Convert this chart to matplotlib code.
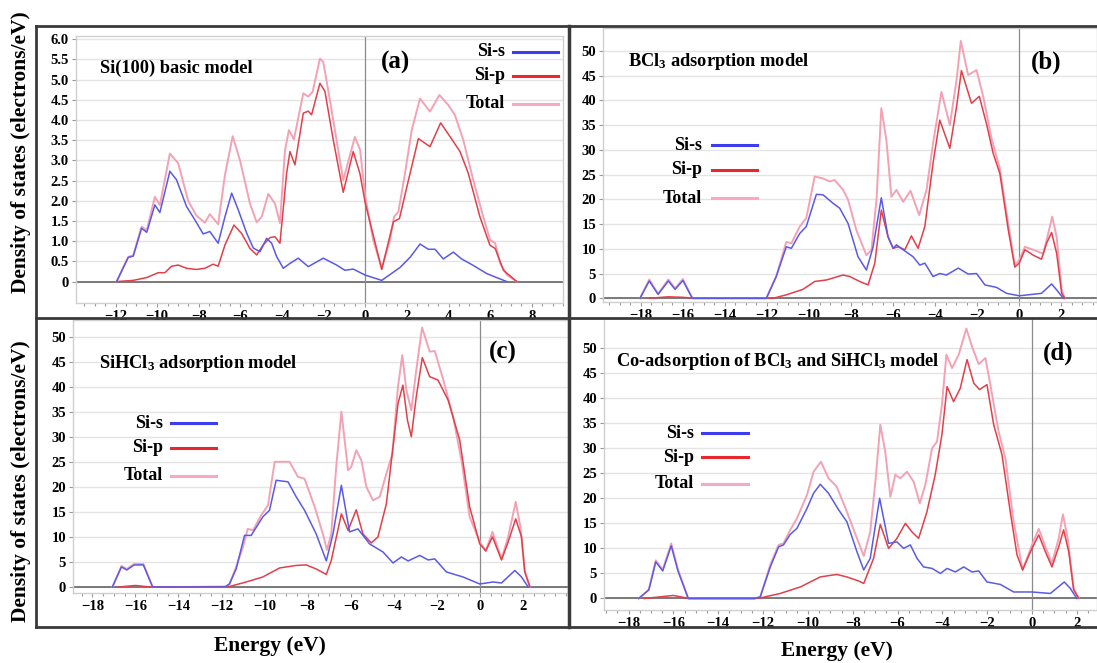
import numpy as np
import matplotlib.pyplot as plt
from matplotlib.ticker import MultipleLocator, FixedLocator, FuncFormatter
from matplotlib.lines import Line2D

plt.rcParams['font.family'] = ['Liberation Serif', 'DejaVu Serif']
plt.rcParams['font.weight'] = 'bold'
plt.rcParams['mathtext.fontset'] = 'custom'
plt.rcParams['mathtext.rm'] = 'Liberation Serif:bold'
plt.rcParams['mathtext.it'] = 'Liberation Serif:bold'
plt.rcParams['mathtext.bf'] = 'Liberation Serif:bold'

# ---- data (energy in eV, DOS in electrons/eV) ----
# (a) Si(100) basic model
a_s_x = [-11.95, -11.39, -11.15, -10.75, -10.5, -10.11, -9.87, -9.39, -9.07, -8.59,
         -8.19, -7.79, -7.47, -7.07, -6.74, -6.42, -6.1, -5.7, -5.38, -5.06,
         -4.74, -4.5, -4.26, -3.94, -3.62, -3.22, -2.74, -2.02, -1.38, -0.98,
         -0.58, 0.0, 0.79, 1.67, 2.15, 2.63, 3.03, 3.35, 3.75, 4.23,
         4.63, 5.19, 5.83, 6.31, 6.8]
a_s_y = [0, 0.6, 0.63, 1.32, 1.22, 1.9, 1.71, 2.73, 2.52, 1.86,
         1.53, 1.18, 1.24, 0.95, 1.61, 2.19, 1.77, 1.2, 0.83, 0.74,
         1.07, 0.95, 0.62, 0.33, 0.45, 0.58, 0.37, 0.58, 0.41, 0.28,
         0.31, 0.16, 0.03, 0.35, 0.6, 0.93, 0.8, 0.8, 0.56, 0.73,
         0.56, 0.4, 0.2, 0.1, 0]
a_p_x = [-11.95, -11.15, -10.5, -9.95, -9.63, -9.31, -8.99, -8.59, -8.11, -7.71,
         -7.31, -7.07, -6.74, -6.31, -5.94, -5.54, -5.22, -4.9, -4.58, -4.34,
         -4.1, -3.78, -3.62, -3.38, -2.98, -2.74, -2.58, -2.18, -1.94, -1.54,
         -1.06, -0.58, -0.26, 0.0, 0.79, 1.35, 1.64, 2.0, 2.55, 3.11,
         3.62, 4.07, 4.55, 4.95, 5.51, 5.99, 6.24, 6.64, 7.28]
a_p_y = [0, 0.03, 0.1, 0.22, 0.22, 0.38, 0.41, 0.33, 0.3, 0.33,
         0.43, 0.38, 0.91, 1.4, 1.19, 0.82, 0.66, 0.91, 1.09, 1.11,
         0.95, 2.68, 3.22, 2.89, 4.17, 4.22, 4.13, 4.91, 4.71, 3.51,
         2.21, 3.22, 2.68, 1.94, 0.3, 1.48, 1.56, 2.35, 3.54, 3.34,
         3.93, 3.59, 3.22, 2.68, 1.6, 0.9, 0.82, 0.28, 0]
a_t_x = [-11.95, -11.39, -11.15, -10.75, -10.5, -10.11, -9.87, -9.39, -8.99, -8.51,
         -8.11, -7.71, -7.47, -7.07, -6.74, -6.37, -6.02, -5.54, -5.22, -4.98,
         -4.66, -4.34, -4.1, -3.86, -3.67, -3.43, -2.98, -2.74, -2.53, -2.18,
         -2.02, -1.7, -1.06, -0.5, -0.25, 0.0, 0.38, 0.79, 1.19, 1.38,
         1.59, 1.91, 2.23, 2.63, 3.11, 3.56, 3.99, 4.31, 4.71, 5.19,
         5.67, 6.0, 6.24, 6.48, 6.8, 7.28]
a_t_y = [0, 0.61, 0.65, 1.36, 1.27, 2.10, 1.89, 3.17, 2.93, 2.0,
         1.63, 1.46, 1.67, 1.42, 2.65, 3.6, 3.0, 1.93, 1.47, 1.6,
         2.17, 1.93, 1.45, 3.24, 3.75, 3.52, 4.66, 4.58, 4.7, 5.52,
         5.44, 4.49, 2.51, 3.58, 3.26, 2.1, 1.03, 0.33, 1.03, 1.6,
         1.73, 2.68, 3.75, 4.53, 4.21, 4.62, 4.37, 4.12, 3.5, 2.51,
         1.6, 1.03, 0.95, 0.45, 0.17, 0]

# (b) BCl3 adsorption model
b_s_x = [-18.04, -17.6, -17.18, -16.69, -16.37, -16.0, -15.55, -12.03, -11.56, -11.08,
         -10.84, -10.44, -10.13, -9.65, -9.33, -8.86, -8.54, -8.14, -7.67, -7.27,
         -6.95, -6.56, -6.24, -6.0, -5.84, -5.52, -5.05, -4.73, -4.49, -4.1,
         -3.78, -3.46, -2.9, -2.43, -2.03, -1.63, -1.08, -0.6, 0.0, 1.06,
         1.54, 1.78, 2.1]
b_s_y = [0, 3.5, 0.8, 3.5, 1.8, 3.6, 0, 0, 4.4, 10.4,
         10.1, 13.1, 14.5, 21.0, 20.9, 19.2, 18.2, 15.1, 8.4, 5.7,
         10.4, 20.3, 12.4, 10.1, 10.8, 9.8, 8.4, 6.7, 7.1, 4.4,
         5.0, 4.7, 6.1, 4.9, 5.0, 2.7, 2.2, 1.0, 0.5, 1.0,
         2.9, 1.7, 0]
b_p_x = [-17.6, -16.7, -16.0, -15.5, -11.71, -11.08, -10.29, -9.73, -9.17, -8.38,
         -8.06, -7.59, -7.19, -6.87, -6.56, -6.24, -6.0, -5.76, -5.44, -5.13,
         -4.81, -4.49, -4.1, -3.78, -3.3, -2.98, -2.75, -2.27, -1.9, -1.56,
         -1.24, -0.92, -0.52, -0.21, 0.0, 0.27, 0.67, 1.06, 1.3, 1.54,
         1.78, 2.02, 2.17]
b_p_y = [0, 0.3, 0.2, 0, 0, 0.7, 1.8, 3.4, 3.7, 4.7,
         4.4, 3.4, 2.7, 7.1, 17.8, 12.4, 10.1, 10.4, 9.8, 12.6,
         10.1, 14.5, 27.3, 36.0, 30.3, 38.7, 46.0, 39.4, 40.8, 35.3,
         29.3, 25.2, 13.8, 6.3, 7.1, 9.8, 8.7, 7.9, 11.1, 13.3,
         9.1, 1.0, 0]
b_t_x = [-18.04, -17.6, -17.18, -16.69, -16.37, -16.0, -15.55, -12.03, -11.56, -11.08,
         -10.84, -10.44, -10.13, -9.73, -9.33, -9.02, -8.78, -8.38, -8.14, -7.75,
         -7.27, -7.03, -6.79, -6.56, -6.32, -6.08, -5.84, -5.52, -5.17, -4.76,
         -4.41, -4.1, -3.7, -3.3, -2.98, -2.78, -2.43, -2.03, -1.71, -1.32,
         -0.92, -0.6, -0.21, 0.0, 0.27, 0.67, 1.14, 1.38, 1.57, 1.78,
         2.02, 2.17]
b_t_y = [0, 3.8, 0.9, 3.8, 2.0, 3.9, 0, 0, 4.4, 11.4,
         11.1, 14.5, 16.2, 24.6, 24.2, 23.6, 23.9, 21.9, 19.9, 13.8,
         8.7, 9.8, 19.9, 38.4, 32.0, 20.5, 21.9, 19.5, 21.7, 16.8,
         21.9, 31.3, 41.7, 35.0, 44.1, 52.0, 45.1, 46.1, 40.7, 32.3,
         26.2, 17.2, 6.7, 7.7, 10.4, 9.8, 9.0, 13.1, 16.5, 12.4,
         1.7, 0]

# (c) SiHCl3 adsorption model
c_s_x = [-17.07, -16.65, -16.4, -16.06, -15.63, -15.2, -11.83, -11.63, -11.32, -10.93,
         -10.62, -10.08, -9.77, -9.46, -8.91, -8.53, -8.14, -7.6, -7.13, -6.82,
         -6.43, -6.05, -5.66, -5.12, -4.5, -4.03, -3.64, -3.33, -2.79, -2.4,
         -2.09, -1.55, -0.78, 0.0, 0.62, 1.01, 1.63, 1.94, 2.25]
c_s_y = [0, 4.0, 3.4, 4.4, 4.4, 0, 0, 0.6, 3.6, 10.3,
         10.3, 14.0, 15.3, 21.3, 21.0, 18.0, 15.3, 10.6, 5.2, 10.6,
         20.3, 11.0, 11.6, 8.6, 7.0, 4.8, 6.0, 5.2, 6.3, 5.4,
         5.6, 3.0, 2.0, 0.6, 1.0, 0.8, 3.3, 2.0, 0]
c_p_x = [-16.8, -16.0, -15.3, -11.63, -10.85, -10.08, -9.3, -8.53, -8.06, -7.6,
         -7.13, -6.9, -6.43, -6.12, -5.74, -5.43, -5.04, -4.73, -4.34, -4.03,
         -3.8, -3.57, -3.36, -3.18, -2.95, -2.67, -2.33, -1.94, -1.47, -0.93,
         -0.47, 0.0, 0.28, 0.59, 1.01, 1.32, 1.67, 1.94, 2.09, 2.33]
c_p_y = [0, 0.3, 0, 0.1, 1.0, 2.0, 3.8, 4.3, 4.4, 3.6,
         2.5, 5.3, 14.6, 11.3, 15.4, 10.6, 8.8, 10.0, 16.6, 28.0,
         36.6, 40.3, 33.3, 30.0, 38.0, 45.8, 42.0, 41.3, 37.3, 29.3,
         16.0, 8.6, 7.2, 10.0, 5.4, 9.0, 13.6, 10.0, 3.0, 0]
c_t_x = [-17.07, -16.65, -16.4, -16.06, -15.63, -15.2, -11.83, -11.63, -11.32, -11.0,
         -10.78, -10.54, -10.16, -9.84, -9.53, -8.84, -8.45, -8.14, -7.67, -7.29,
         -7.1, -6.9, -6.67, -6.43, -6.12, -5.97, -5.74, -5.5, -5.27, -4.96,
         -4.65, -4.34, -4.06, -3.8, -3.6, -3.41, -3.18, -2.95, -2.68, -2.33,
         -2.09, -1.71, -1.24, -0.85, -0.47, 0.0, 0.28, 0.59, 1.01, 1.32,
         1.67, 1.89, 2.09, 2.33]
c_t_y = [0, 4.2, 3.6, 4.6, 4.6, 0, 0, 0.6, 4.0, 8.0,
         11.6, 11.3, 14.3, 16.3, 25.0, 25.0, 22.0, 21.6, 16.0, 10.6,
         7.4, 10.6, 24.0, 35.0, 23.3, 24.0, 27.3, 25.3, 20.0, 17.3,
         18.0, 22.6, 26.6, 40.0, 46.3, 39.3, 35.3, 43.3, 51.8, 47.0,
         47.1, 41.6, 34.0, 25.3, 14.0, 9.0, 7.2, 11.0, 5.6, 10.0,
         17.0, 12.0, 3.3, 0]

# (d) Co-adsorption of BCl3 and SiHCl3 model
d_s_x = [-17.55, -17.1, -16.79, -16.48, -16.1, -15.8, -15.34, -12.4, -12.13, -11.68,
         -11.31, -11.09, -10.79, -10.49, -10.04, -9.75, -9.45, -9.08, -8.63, -8.26,
         -7.81, -7.51, -7.22, -6.8, -6.4, -6.03, -5.73, -5.43, -5.13, -4.84,
         -4.46, -4.09, -3.79, -3.42, -3.05, -2.68, -2.38, -2.01, -1.41, -0.82,
         0.0, 0.82, 1.44, 1.71, 2.0]
d_s_y = [0, 1.7, 7.3, 5.5, 10.5, 5.5, 0, 0, 0.3, 6.3,
         10.3, 10.7, 12.8, 14.0, 18.0, 21.0, 22.8, 21.0, 17.7, 15.3,
         9.3, 5.7, 8.0, 20.0, 11.0, 11.3, 10.0, 10.7, 8.0, 6.3,
         6.0, 5.0, 6.0, 5.3, 6.3, 5.3, 5.5, 3.3, 2.8, 1.3,
         1.3, 1.0, 3.3, 2.0, 0]
d_p_x = [-17.3, -16.0, -15.3, -12.4, -12.13, -11.24, -10.34, -9.45, -8.71, -8.26,
         -7.74, -7.51, -7.07, -6.77, -6.4, -6.03, -5.65, -5.36, -5.06, -4.69,
         -4.32, -4.02, -3.79, -3.5, -3.2, -2.9, -2.6, -2.34, -2.01, -1.71,
         -1.34, -0.97, -0.67, -0.42, 0.0, 0.3, 0.6, 0.89, 1.19, 1.41,
         1.64, 1.86, 2.08]
d_p_y = [0, 0.6, 0, 0, 0.1, 1.0, 2.3, 4.3, 4.8, 4.3,
         3.5, 3.0, 8.0, 14.8, 10.0, 12.0, 15.0, 13.3, 12.0, 17.3,
         24.7, 32.7, 42.3, 39.3, 42.0, 47.7, 43.0, 41.7, 42.7, 34.7,
         28.7, 17.3, 8.7, 5.7, 10.0, 12.7, 9.3, 6.3, 10.3, 13.7,
         9.3, 1.7, 0.1]
d_t_x = [-17.55, -17.1, -16.79, -16.48, -16.1, -15.8, -15.34, -12.4, -12.13, -11.68,
         -11.31, -11.09, -10.79, -10.49, -10.04, -9.75, -9.42, -9.08, -8.71, -8.26,
         -7.81, -7.51, -7.22, -6.99, -6.77, -6.55, -6.32, -6.1, -5.88, -5.58,
         -5.28, -5.01, -4.76, -4.46, -4.24, -4.02, -3.82, -3.57, -3.27, -2.93,
         -2.68, -2.38, -2.08, -1.86, -1.49, -1.19, -0.82, -0.42, 0.0, 0.3,
         0.6, 0.89, 1.19, 1.38, 1.59, 1.86, 2.08]
d_t_y = [0, 1.8, 7.6, 5.8, 11.0, 5.8, 0, 0, 0.3, 6.7,
         10.7, 11.0, 13.7, 16.0, 20.7, 25.3, 27.3, 24.0, 22.3, 17.3,
         12.0, 8.5, 13.3, 23.3, 34.7, 29.3, 20.3, 24.7, 24.0, 25.3,
         23.3, 19.0, 22.7, 30.0, 31.3, 38.7, 48.7, 46.0, 48.7, 53.9,
         50.3, 46.8, 48.0, 42.7, 33.3, 28.0, 15.3, 5.7, 10.7, 13.9,
         10.3, 7.0, 12.0, 16.8, 12.0, 2.0, 0.1]

series_names = ['Si-s', 'Si-p', 'Total']
titles = ['Si(100) basic model', 'BCl$_3$ adsorption model',
          'SiHCl$_3$ adsorption model', 'Co-adsorption of BCl$_3$ and SiHCl$_3$ model']
tags = ['(a)', '(b)', '(c)', '(d)']
xticks_a = [-12, -10, -8, -6, -4, -2, 0, 2, 4, 6, 8]
xticks_bcd = [-18, -16, -14, -12, -10, -8, -6, -4, -2, 0, 2]
yticks_a = [0, 0.5, 1.0, 1.5, 2.0, 2.5, 3.0, 3.5, 4.0, 4.5, 5.0, 5.5, 6.0]
yticks_bcd = [0, 5, 10, 15, 20, 25, 30, 35, 40, 45, 50]

# ---- figure ----
W, H = 1097, 663
fig = plt.figure(figsize=(W / 100, H / 100), dpi=100)

C_S, C_P, C_T = '#5a5ae6', '#e0404a', '#f3a2b6'
L_S, L_P, L_T = '#3c3cf0', '#e8282e', '#f8aac4'


def add_ax(l, t, r, b):
    return fig.add_axes([l / W, 1 - b / H, (r - l) / W, (b - t) / H])


def ftext(x, y, s, **kw):
    fig.text(x / W, 1 - y / H, s, **kw)


def fline(x0, x1, y0, y1, **kw):
    fig.add_artist(Line2D([x0 / W, x1 / W], [1 - y0 / H, 1 - y1 / H],
                          transform=fig.transFigure, **kw))


def panel(ax, sx, sy, px, py, tx, ty, xlim, ylim, xticks, yticks, yfmt):
    ax.plot(tx, ty, color=C_T, lw=1.4, zorder=3)
    ax.plot(px, py, color=C_P, lw=1.1, zorder=4)
    ax.plot(sx, sy, color=C_S, lw=1.1, zorder=5)
    ax.axhline(0, color='#707070', lw=1.3, zorder=2)
    ax.axvline(0, color='#8a8a8a', lw=0.9, zorder=2)
    ax.set_xlim(*xlim)
    ax.set_ylim(*ylim)
    ax.xaxis.set_major_locator(FixedLocator(xticks))
    ax.xaxis.set_minor_locator(MultipleLocator(0.5))
    ax.yaxis.set_major_locator(FixedLocator(yticks))
    ax.yaxis.set_major_formatter(FuncFormatter(yfmt))
    ax.grid(axis='y', color='#e4e4e4', lw=1.0, zorder=0)
    for sp in ax.spines.values():
        sp.set_color('#cfcfcf')
        sp.set_linewidth(1.0)
    ax.tick_params(axis='both', which='both', colors='#999999', labelcolor='black',
                   labelsize=10.5, length=3, width=0.8, pad=2)
    ax.tick_params(axis='x', which='minor', length=2)
    for lab in ax.get_xticklabels() + ax.get_yticklabels():
        lab.set_fontweight('bold')


def fmt_a(v, pos):
    return '0' if abs(v) < 1e-9 else '%.1f' % v


def fmt_int(v, pos):
    return '%d' % round(v)


axa = add_ax(76, 36, 563, 303)
panel(axa, a_s_x, a_s_y, a_p_x, a_p_y, a_t_x, a_t_y, (-13.9, 9.5), (-0.53, 6.08),
      xticks_a, yticks_a, fmt_a)
axb = add_ax(603, 28, 1097, 302)
panel(axb, b_s_x, b_s_y, b_p_x, b_p_y, b_t_x, b_t_y, (-19.8, 3.7), (-0.75, 54.6),
      xticks_bcd, yticks_bcd, fmt_int)
axc = add_ax(73, 320, 568, 593)
panel(axc, c_s_x, c_s_y, c_p_x, c_p_y, c_t_x, c_t_y, (-18.9, 4.1), (-1.2, 53.3),
      xticks_bcd, yticks_bcd, fmt_int)
axd = add_ax(604, 318, 1097, 610)
panel(axd, d_s_x, d_s_y, d_p_x, d_p_y, d_t_x, d_t_y, (-19.1, 2.9), (-2.3, 56.0),
      xticks_bcd, yticks_bcd, fmt_int)

# titles and tags
ftext(100, 68, titles[0], fontsize=13.2, fontweight='bold', va='center', ha='left')
ftext(396, 62, tags[0], fontsize=18, fontweight='bold', va='center', ha='center')
ftext(628, 62, titles[1], fontsize=13.2, fontweight='bold', va='center', ha='left')
ftext(1046, 62, tags[1], fontsize=18, fontweight='bold', va='center', ha='center')
ftext(99, 363, titles[2], fontsize=13.2, fontweight='bold', va='center', ha='left')
ftext(503, 352, tags[2], fontsize=18, fontweight='bold', va='center', ha='center')
ftext(616, 362, titles[3], fontsize=13.2, fontweight='bold', va='center', ha='left')
ftext(1058, 353, tags[3], fontsize=18, fontweight='bold', va='center', ha='center')

# hand-made legends: (text right edge, line start, line end, rows y)
legends = [(505, 513, 558, (52, 76, 104)),
           (702, 712, 757, (145, 170, 198)),
           (163, 171, 216, (423, 448, 476)),
           (694, 702, 748, (433, 457, 484))]
for tx_r, lx0, lx1, rows in legends:
    for name, col, yy in zip(series_names, (L_S, L_P, L_T), rows):
        ftext(tx_r, yy, name, fontsize=13, fontweight='bold', ha='right', va='center')
        fline(lx0, lx1, yy, yy, color=col, lw=2.2)

# axis labels
ftext(21, 152, 'Density of states (electrons/eV)', fontsize=15.5, fontweight='bold',
      rotation=90, ha='center', va='center')
ftext(21, 481, 'Density of states (electrons/eV)', fontsize=15.5, fontweight='bold',
      rotation=90, ha='center', va='center')
ftext(270, 646, 'Energy (eV)', fontsize=15.5, fontweight='bold', ha='center', va='center')
ftext(837, 651, 'Energy (eV)', fontsize=15.5, fontweight='bold', ha='center', va='center')

# panel frames
fc = '#3a3a3a'
fline(36, 1097, 26, 26, color=fc, lw=2)
fline(36, 36, 26, 627, color=fc, lw=2)
fline(36, 1097, 627, 627, color=fc, lw=2)
fline(36, 1097, 318, 318, color=fc, lw=2)
fline(569, 569, 26, 627, color=fc, lw=2.5)

fig.savefig('out.png', dpi=100)
